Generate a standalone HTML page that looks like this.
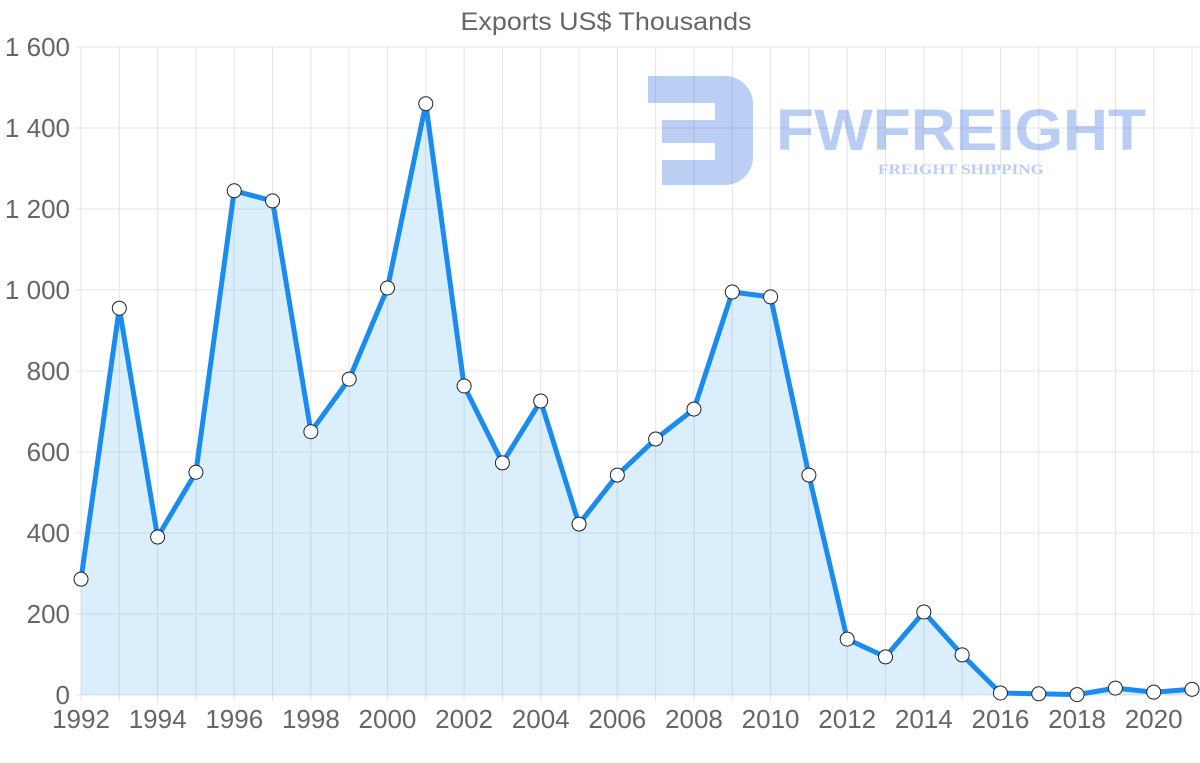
<!DOCTYPE html>
<html><head><meta charset="utf-8"><style>
html,body{margin:0;padding:0;background:#fff;width:1200px;height:763px;overflow:hidden;font-family:"Liberation Sans",sans-serif}
</style></head><body>
<svg id="chart" width="1200" height="763" xmlns="http://www.w3.org/2000/svg">
<text x="606" y="30" text-anchor="middle" font-size="25" fill="#666" textLength="291" lengthAdjust="spacingAndGlyphs">Exports US$ Thousands</text>
<g id="grid"></g>
<g id="wm" opacity="0.35">
 <path d="M648 76 H725 A28 28 0 0 1 753 104 V157 A28 28 0 0 1 725 185 H662 V160 H715 V143 H662 V120 H715 V103 H648 Z" fill="#3b73e0"/>
 <text x="776" y="150" font-size="58" font-weight="bold" fill="#3b73e0" textLength="370" lengthAdjust="spacingAndGlyphs">FWFREIGHT</text>
 <text x="878" y="174" font-size="15" font-weight="bold" font-family="Liberation Serif,serif" fill="#3b73e0" textLength="166" lengthAdjust="spacingAndGlyphs">FREIGHT SHIPPING</text>
</g>
<g id="plot"></g>
<g id="axes"></g>
</svg>
<script>
const years=[1992,1993,1994,1995,1996,1997,1998,1999,2000,2001,2002,2003,2004,2005,2006,2007,2008,2009,2010,2011,2012,2013,2014,2015,2016,2017,2018,2019,2020,2021];
const exportsVals=[286,955,390,550,1245,1220,650,780,1005,1460,763,573,726,422,543,632,706,995,983,543,138,94,205,99,5,3,1,17,7,14];
const yTicks=[0,200,400,600,800,1000,1200,1400,1600];
const yTickLabels=["0","200","400","600","800","1 000","1 200","1 400","1 600"];
const NS="http://www.w3.org/2000/svg";
const X0=81,X1=1192,Y0=695,Y1=47;
const xs=y=>X0+(y-years[0])/(years[years.length-1]-years[0])*(X1-X0);
const ys=v=>Y0-v/1600*(Y0-Y1);
function mk(t,a,p){const e=document.createElementNS(NS,t);for(const k in a)e.setAttribute(k,a[k]);p.appendChild(e);return e;}
const grid=document.getElementById('grid'),plot=document.getElementById('plot'),axes=document.getElementById('axes');
years.forEach(y=>{const l=mk('line',{x1:xs(y),x2:xs(y),y1:Y1,y2:Y0+6,stroke:'#e4e4e4'},grid);

});
yTicks.forEach((v,i)=>{const l=mk('line',{x1:X0-6,x2:X1+8,y1:ys(v),y2:ys(v),stroke:'#e4e4e4'},grid);


const t=mk('text',{x:70,y:ys(v)+9,'text-anchor':'end','font-size':26,fill:'#666'},axes);t.textContent=yTickLabels[i];

});
years.forEach((y,i)=>{if(i%2)return;const t=mk('text',{x:xs(y),y:728,'text-anchor':'middle','font-size':26,fill:'#666'},axes);t.textContent=y;

});
const pts=years.map((y,i)=>[xs(y),ys(exportsVals[i])]);
const dl=pts.map((p,i)=>(i?'L':'M')+p[0].toFixed(1)+' '+p[1].toFixed(1)).join(' ');
const area=mk('path',{d:dl+` L${X1} ${Y0} L${X0} ${Y0} Z`,fill:'rgba(54,162,235,0.18)'},plot);


const line=mk('path',{d:dl,fill:'none',stroke:'#1a8cf0','stroke-width':5,'stroke-linejoin':'round'},plot);


pts.forEach(p=>{const c=mk('circle',{cx:p[0],cy:p[1],r:7,fill:'#fff',stroke:'#222','stroke-width':1},plot);

});
</script>
</body></html>
